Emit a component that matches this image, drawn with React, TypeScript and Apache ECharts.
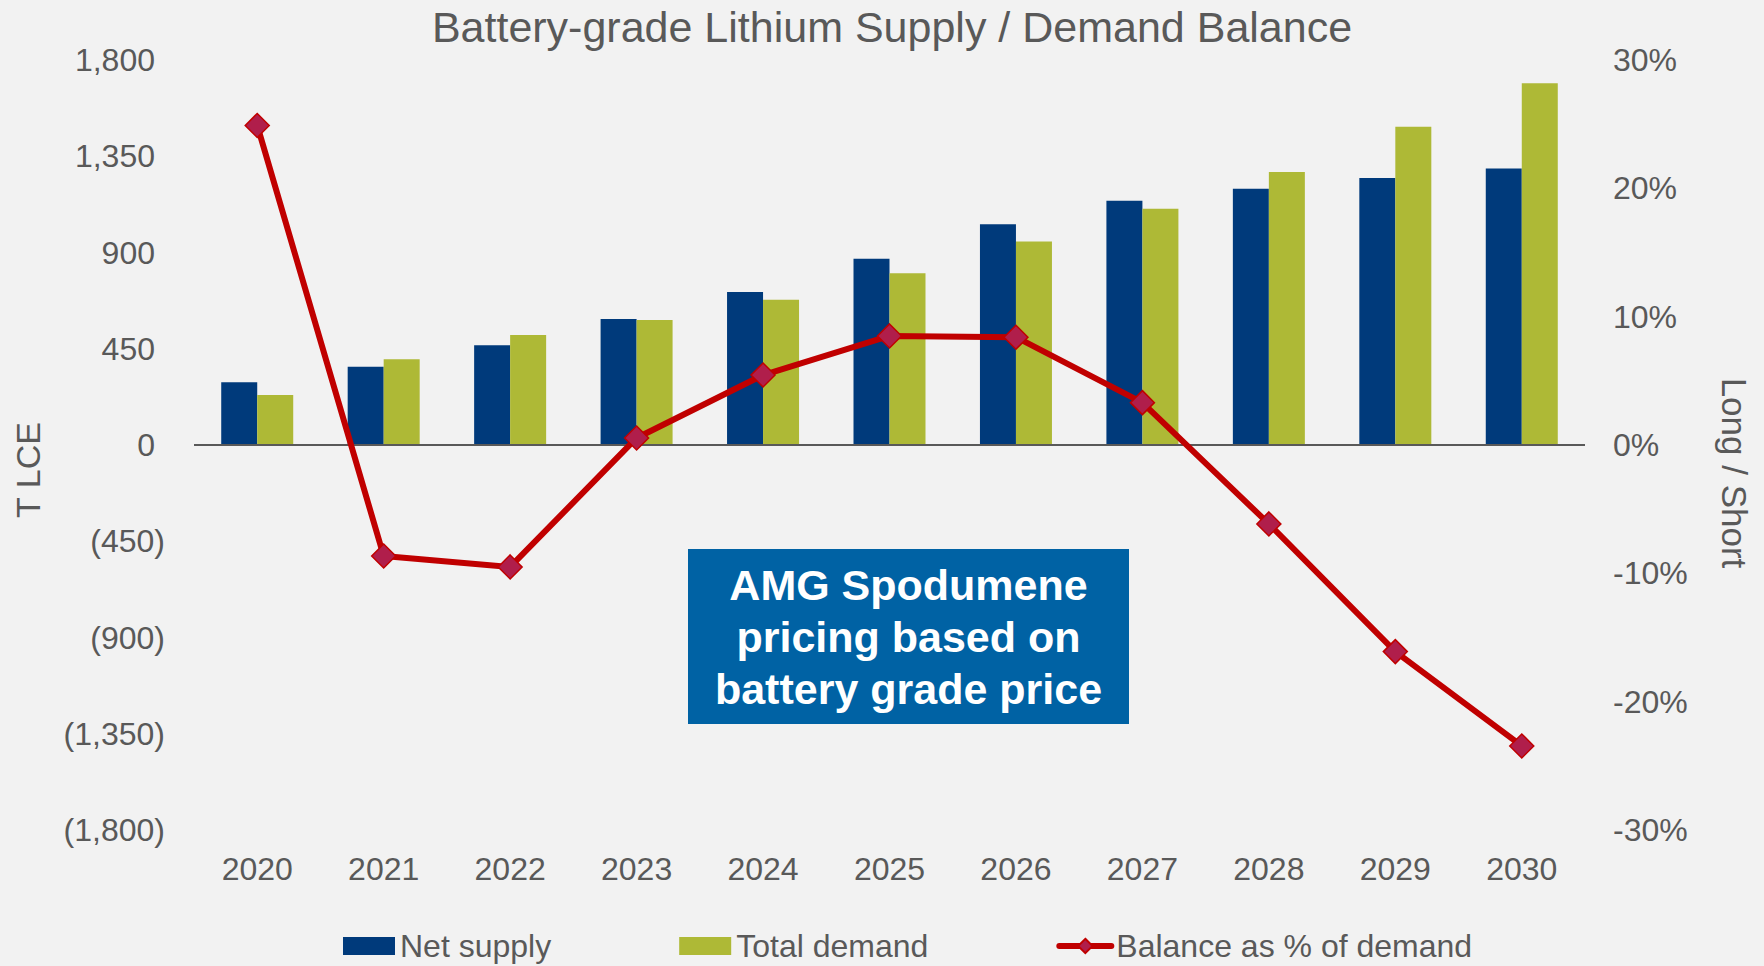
import React, { useEffect, useRef } from "react";
import * as echarts from "echarts";

const categories = ["2020", "2021", "2022", "2023", "2024", "2025", "2026", "2027", "2028", "2029", "2030"];
const netSupply = [293, 366, 466, 589, 715, 871, 1032, 1142, 1198, 1248, 1293];
const totalDemand = [234, 401, 514, 584, 679, 803, 952, 1105, 1276, 1488, 1691];
const balancePct = [24.9, -8.65, -9.5, 0.55, 5.45, 8.5, 8.4, 3.3, -6.15, -16.1, -23.45];

const FONT = "'Liberation Sans', Arial, sans-serif";
const GREY = "#595959";

export default function App() {
  const ref = useRef<HTMLDivElement>(null);
  useEffect(() => {
    if (!ref.current) return;
    const chart = echarts.init(ref.current, undefined, { renderer: "svg" });
    const fmtNum = (v: number) => Math.abs(v).toLocaleString("en-US");
    chart.setOption({
      animation: false,
      backgroundColor: "#F2F2F2",
      textStyle: { fontFamily: FONT },
      grid: { left: 194, right: 179, top: 60, bottom: 136, containLabel: false },
      legend: {
        left: 338,
        top: 925,
        itemWidth: 52,
        itemHeight: 18,
        itemGap: 128,
        textStyle: { fontSize: 32, color: GREY, fontFamily: FONT },
        data: [
          { name: "Net supply", icon: "rect" },
          { name: "Total demand", icon: "rect" },
          { name: "Balance as % of demand", lineStyle: { width: 6, cap: "round" } },
        ],
      },
      xAxis: {
        type: "category",
        data: categories,
        axisLine: { show: false, onZero: false },
        axisTick: { show: false },
        axisLabel: { fontSize: 32, color: GREY, margin: 23, fontFamily: FONT },
      },
      yAxis: [
        {
          type: "value",
          min: -1800,
          max: 1800,
          interval: 450,
          axisLine: { show: false },
          axisTick: { show: false },
          splitLine: { show: false },
          axisLabel: {
            margin: 29,
            formatter: (v: number) => (v < 0 ? `{n|(${fmtNum(v)})}` : `{p|${fmtNum(v)}}`),
            rich: {
              p: { fontSize: 32, color: GREY, fontFamily: FONT, padding: [0, 10, 0, 0] },
              n: { fontSize: 32, color: GREY, fontFamily: FONT },
            },
          },
        },
        {
          type: "value",
          min: -30,
          max: 30,
          interval: 10,
          axisLine: { show: false },
          axisTick: { show: false },
          splitLine: { show: false },
          axisLabel: {
            margin: 28,
            fontSize: 32,
            color: GREY,
            fontFamily: FONT,
            formatter: (v: number) => `${v}%`,
          },
        },
      ],
      series: [
        {
          name: "Net supply",
          type: "bar",
          data: netSupply,
          barWidth: 36,
          barGap: "0%",
          itemStyle: { color: "#003A7B" },
          markLine: {
            silent: true,
            symbol: "none",
            label: { show: false },
            lineStyle: { color: GREY, width: 2, type: "solid" },
            data: [{ yAxis: 0 }],
          },
        },
        {
          name: "Total demand",
          type: "bar",
          data: totalDemand,
          barWidth: 36,
          barGap: "0%",
          itemStyle: { color: "#AEB936" },
        },
        {
          name: "Balance as % of demand",
          type: "line",
          yAxisIndex: 1,
          data: balancePct,
          symbol: "diamond",
          symbolSize: 24,
          z: 5,
          lineStyle: { color: "#C00000", width: 6 },
          itemStyle: { color: "#B01E4B", borderColor: "#C00000", borderWidth: 1.5 },
        },
      ],
      graphic: [
        {
          type: "text",
          x: 892,
          y: 27,
          style: {
            text: "Battery-grade Lithium Supply / Demand Balance",
            font: `43px ${FONT}`,
            fill: GREY,
            textAlign: "center",
            textVerticalAlign: "middle",
          },
        },
        {
          type: "text",
          x: 28,
          y: 470,
          rotation: Math.PI / 2,
          style: {
            text: "T LCE",
            font: `34px ${FONT}`,
            fill: GREY,
            textAlign: "center",
            textVerticalAlign: "middle",
          },
        },
        {
          type: "text",
          x: 1734,
          y: 473,
          rotation: -Math.PI / 2,
          style: {
            text: "Long / Short",
            font: `35px ${FONT}`,
            fill: GREY,
            textAlign: "center",
            textVerticalAlign: "middle",
          },
        },
        {
          type: "rect",
          shape: { x: 688, y: 549, width: 441, height: 175 },
          style: { fill: "#0062A4" },
          z: 10,
        },
        {
          type: "text",
          x: 908.5,
          y: 637,
          z: 11,
          style: {
            text: "AMG Spodumene\npricing based on\nbattery grade price",
            font: `bold 43px ${FONT}`,
            fill: "#FFFFFF",
            textAlign: "center",
            textVerticalAlign: "middle",
            lineHeight: 52,
          },
        },
      ],
    });
    return () => chart.dispose();
  }, []);
  return <div ref={ref} style={{ position: "absolute", left: 0, top: 0, width: 1764, height: 966 }} />;
}
